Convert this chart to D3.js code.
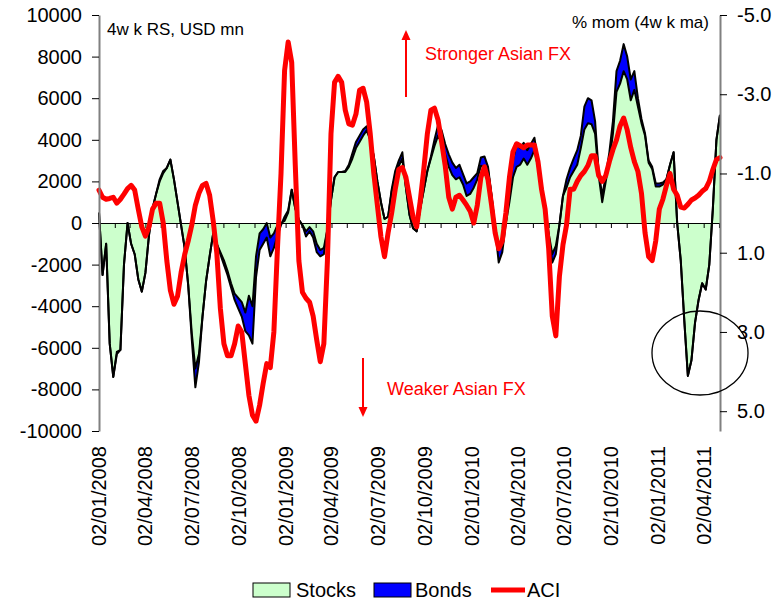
<!DOCTYPE html>
<html>
<head>
<meta charset="utf-8">
<script src="https://cdn.jsdelivr.net/npm/d3@7"></script>
<style>
  html, body { margin: 0; padding: 0; background: #ffffff; }
  svg { display: block; font-family: "Liberation Sans", Arial, Helvetica, sans-serif; }
</style>
</head>
<body>
<svg id="chart" width="779" height="603"></svg>
<script>
// Weekly observations, first week 02/01/2008
const firstWeek = "02/01/2008";

// 4-week rolling sum of foreign equity flows, USD mn
const stocks = [
  500, -2500, -1000, -5800, -7400, -6200, -6100, -2000, 0, -1000,
  -1500, -2700, -3300, -2400, -600, 700, 1400, 2000, 2400, 2650,
  3050, 2100, 1000, -100, -1200, -3000, -5300, -7000, -6300, -4500,
  -2800, -1600, -500, -1000, -1400, -1800, -2300, -2900, -3400, -3600,
  -3800, -4300, -3500, -4000, -1600, -500, -300, 0, -700, -500,
  -100, 0, 100, 500, 1600, 700, 150, -100, -400, -200,
  -400, -1000, -1300, -1200, -300, 1100, 2200, 2450, 2450, 2450,
  2700, 3100, 3600, 3900, 4200, 4450, 4000, 3200, 2000, 1000,
  200, 300, 1500, 2300, 2750, 3100, 1700, 400, -250, -400,
  700, 1600, 2500, 3100, 3700, 4200, 3850, 3300, 2700, 2300,
  2100, 2200, 1850, 1300, 1400, 1700, 2100, 2750, 2700, 2550,
  1300, -200, -1300, -900, 0, 1000, 2200, 2700, 2800, 3100,
  2800, 3100, 3500, 2700, 1800, 600, -500, -1500, -1100, -100,
  1300, 1700, 2200, 2500, 2800, 3600, 4500, 4800, 4750, 4300,
  2300, 1000, 2000, 3000, 4300, 6300, 6700, 7300, 6900, 5900,
  6400, 5600, 4800, 4200, 2900, 2600, 1750, 1750, 1850, 2100,
  2800, 3400, 0, -1800, -4700, -7350, -6600, -4800, -3700, -2900,
  -3200, -2000, 700, 4000, 5200
];

// 4-week rolling sum of foreign bond flows, USD mn (stacked on stocks)
const bonds = [
  0, 0, 0, 0, 0, -100, 0, 0, 0, 0,
  0, 0, 0, 0, 0, 0, 0, 100, 100, 0,
  0, 0, 0, 0, 0, 0, -300, -900, -400, 0,
  0, 0, 0, 0, -100, -200, -200, -200, -300, -500,
  -700, -900, -1900, -1800, -1000, -800, -700, -700, -900, -700,
  -500, -100, 200, 100, 0, 0, 0, 0, -250, -200,
  -300, -400, -300, -300, 0, 0, 0, 0, 0, 50,
  100, 250, 300, 300, 300, 200, 50, 0, 0, 0,
  0, 0, 100, 200, 250, 300, 0, 0, 0, 0,
  0, 0, 0, 100, 300, 500, 600, 500, 600, 600,
  550, 600, 500, 600, 600, 500, 300, 400, 500, 150,
  0, -100, -600, -500, 0, 600, 800, 1100, 800, 750,
  700, 700, 600, 300, 100, 0, -100, -400, -400, 0,
  0, 400, 450, 600, 700, 600, 1100, 1200, 1150, 600,
  200, 300, 300, 400, 600, 1000, 1100, 1300, 1100, 1000,
  900, 400, 200, 100, 100, 100, 150, 150, 100, 0,
  0, 0, 0, 0, 0, 0, 0, 0, 0, 0,
  0, 0, 0, 0, 0
];

// Asian Currency Index, % mom (4wk ma), plotted on the inverted right axis
const aci = [
  -0.58, -0.4, -0.35, -0.37, -0.4, -0.25, -0.35, -0.48, -0.62, -0.7,
  -0.58, -0.1, 0.35, 0.58, 0.35, -0.1, -0.25, -0.25, 0.25, 1.2,
  1.95, 2.3, 2.1, 1.5, 1.05, 0.7, 0.3, -0.2, -0.5, -0.7,
  -0.75, -0.45, 0.2, 1.0, 2.4, 3.3, 3.6, 3.6, 3.3, 2.85,
  3.0, 3.8, 4.6, 5.1, 5.25, 4.85, 4.3, 3.8, 3.9, 3.0,
  0.9, -1.0, -3.6, -4.32, -3.8, -1.2, 1.2, 2.0, 2.15, 2.25,
  2.6, 3.2, 3.75, 3.3, 1.2, -2.0, -3.3, -3.45, -3.3, -2.6,
  -2.25, -2.22, -2.5, -3.1, -3.15, -2.8, -2.0, -1.0, -0.2, 0.6,
  1.1, 0.5, 0.0, -0.6, -1.1, -1.15, -0.9, -0.4, 0.1, 0.35,
  -0.3, -1.1, -2.0, -2.6, -2.65, -2.35, -1.8, -1.2, -0.4, -0.1,
  -0.4, -0.45, -0.33, -0.2, -0.05, 0.25, -0.2, -0.9, -1.17, -0.84,
  -0.2, 0.5, 0.9, 0.7, 0.0, -0.9, -1.55, -1.75, -1.7, -1.65,
  -1.72, -1.72, -1.72, -1.3, -0.6, -0.1, 0.9, 2.6, 3.1, 1.6,
  0.8, 0.3, -0.6, -0.6, -0.8, -0.95, -1.05, -1.2, -1.45, -1.45,
  -0.95, -0.8, -0.95, -1.3, -1.6, -1.85, -2.2, -2.4, -2.1, -1.65,
  -1.3, -1.05, -0.5, 0.5, 1.1, 1.2, 0.7, -0.1, -0.35, -0.7,
  -1.0, -0.6, -0.45, -0.15, -0.13, -0.22, -0.33, -0.38, -0.45, -0.55,
  -0.62, -0.8, -1.1, -1.35, -1.4
];

const leftTicks = [10000, 8000, 6000, 4000, 2000, 0, -2000, -4000, -6000, -8000, -10000];
const rightTicks = [-5, -3, -1, 1, 3, 5];
const xTickLabels = [
  "02/01/2008", "02/04/2008", "02/07/2008", "02/10/2008",
  "02/01/2009", "02/04/2009", "02/07/2009", "02/10/2009",
  "02/01/2010", "02/04/2010", "02/07/2010", "02/10/2010",
  "02/01/2011", "02/04/2011"
];
const seriesNames = ["Stocks", "Bonds", "ACI"];

// ---------------------------------------------------------------
const parseDay = d3.timeParse("%d/%m/%Y");
const start = parseDay(firstWeek);
const rows = stocks.map((s, i) => ({
  date: d3.timeDay.offset(start, 7 * i),
  stocks: s,
  total: s + bonds[i],
  aci: aci[i]
}));

const plot = { left: 99, right: 720, top: 15, bottom: 431 };
const x = d3.scaleTime()
  .domain([rows[0].date, rows[rows.length - 1].date])
  .range([plot.left, plot.right]);
const yL = d3.scaleLinear().domain([-10000, 10000]).range([plot.bottom, plot.top]);
const yR = d3.scaleLinear().domain([-5, 5.5]).range([plot.top, plot.bottom]);

const colors = { stocks: "#CCFFCC", bonds: "#0000FF", aci: "#FF0000", axis: "#808080" };
const svg = d3.select("#chart");

// Stacked areas
svg.append("path").datum(rows)
  .attr("fill", colors.stocks)
  .attr("d", d3.area().x(d => x(d.date)).y0(yL(0)).y1(d => yL(d.stocks)));
svg.append("path").datum(rows)
  .attr("fill", colors.bonds)
  .attr("d", d3.area().x(d => x(d.date)).y0(d => yL(d.stocks)).y1(d => yL(d.total)));

// Zero line with monthly tick marks
const monthTicks = d3.range(0, 41).map(m => new Date(2008, m, 2))
  .filter(d => d <= rows[rows.length - 1].date);
const zeroAxis = svg.append("g")
  .attr("transform", `translate(0,${yL(0)})`)
  .call(d3.axisBottom(x).tickValues(monthTicks).tickSize(5).tickSizeOuter(0).tickFormat(""));
zeroAxis.select(".domain").attr("stroke", "#000").attr("stroke-width", 1.2);
zeroAxis.selectAll(".tick line").attr("stroke", "#000");

// Series outlines
const outline = key => d3.line().x(d => x(d.date)).y(d => yL(d[key]));
svg.append("path").datum(rows)
  .attr("fill", "none").attr("stroke", "#000").attr("stroke-width", 2)
  .attr("stroke-linejoin", "round").attr("d", outline("stocks"));
svg.append("path").datum(rows)
  .attr("fill", "none").attr("stroke", "#000").attr("stroke-width", 2)
  .attr("stroke-linejoin", "round").attr("d", outline("total"));

// ACI line
svg.append("path").datum(rows)
  .attr("fill", "none").attr("stroke", colors.aci).attr("stroke-width", 5)
  .attr("stroke-linejoin", "round").attr("stroke-linecap", "round")
  .attr("d", d3.line().x(d => x(d.date)).y(d => yR(d.aci)));

// Left axis
const leftAxis = svg.append("g")
  .attr("transform", `translate(${plot.left},0)`)
  .call(d3.axisLeft(yL).tickValues(leftTicks).tickSize(7).tickSizeOuter(0)
    .tickPadding(10).tickFormat(d => String(d)));
leftAxis.select(".domain").attr("stroke", colors.axis).attr("stroke-width", 2);
leftAxis.selectAll(".tick line").attr("stroke", "#000");
leftAxis.selectAll(".tick text").attr("font-size", 20).attr("fill", "#000")
  .attr("font-family", "Liberation Sans, Arial, sans-serif");

// Right axis (inverted)
const rightAxis = svg.append("g")
  .attr("transform", `translate(${plot.right},0)`)
  .call(d3.axisRight(yR).tickValues(rightTicks).tickSize(7).tickSizeOuter(0)
    .tickPadding(10).tickFormat(d => d.toFixed(1)));
rightAxis.select(".domain").attr("stroke", colors.axis).attr("stroke-width", 2);
rightAxis.selectAll(".tick line").attr("stroke", "#000");
rightAxis.selectAll(".tick text").attr("font-size", 20).attr("fill", "#000")
  .attr("font-family", "Liberation Sans, Arial, sans-serif");

// Date labels, rotated
svg.append("g").selectAll("text").data(xTickLabels).join("text")
  .attr("transform", d => `translate(${x(parseDay(d))},446) rotate(-90)`)
  .attr("text-anchor", "end").attr("dy", "0.35em")
  .attr("font-size", 20).attr("fill", "#000")
  .text(d => d);

// Axis titles
svg.append("text").attr("x", 107).attr("y", 35).attr("font-size", 17).text("4w k RS, USD mn");
svg.append("text").attr("x", 709).attr("y", 28).attr("text-anchor", "end")
  .attr("font-size", 17).text("% mom (4w k ma)");

// Direction annotations
const ann = svg.append("g").attr("fill", colors.aci).attr("stroke", colors.aci);
ann.append("line").attr("x1", 406).attr("x2", 406).attr("y1", 97).attr("y2", 38).attr("stroke-width", 2);
ann.append("path").attr("stroke", "none").attr("d", "M406,30 L401.5,40 L410.5,40 Z");
ann.append("line").attr("x1", 363).attr("x2", 363).attr("y1", 358).attr("y2", 409).attr("stroke-width", 2);
ann.append("path").attr("stroke", "none").attr("d", "M363,417 L358.5,407 L367.5,407 Z");
svg.append("text").attr("x", 425).attr("y", 60).attr("font-size", 18).attr("fill", colors.aci)
  .text("Stronger Asian FX");
svg.append("text").attr("x", 387).attr("y", 395).attr("font-size", 18).attr("fill", colors.aci)
  .text("Weaker Asian FX");

// Highlight ring
svg.append("ellipse").attr("cx", 700).attr("cy", 353).attr("rx", 48).attr("ry", 42)
  .attr("fill", "none").attr("stroke", "#000").attr("stroke-width", 1.3);

// Legend
const legend = svg.append("g").attr("font-size", 20).attr("fill", "#000");
legend.append("rect").attr("x", 253).attr("y", 583).attr("width", 37).attr("height", 14)
  .attr("fill", colors.stocks).attr("stroke", "#000").attr("stroke-width", 1);
legend.append("text").attr("x", 296).attr("y", 597).text(seriesNames[0]);
legend.append("rect").attr("x", 374).attr("y", 583).attr("width", 37).attr("height", 14)
  .attr("fill", colors.bonds).attr("stroke", "#000").attr("stroke-width", 1);
legend.append("text").attr("x", 415).attr("y", 597).text(seriesNames[1]);
legend.append("line").attr("x1", 491).attr("x2", 525).attr("y1", 590).attr("y2", 590)
  .attr("stroke", colors.aci).attr("stroke-width", 5);
legend.append("text").attr("x", 527).attr("y", 597).text(seriesNames[2]);
</script>
</body>
</html>
